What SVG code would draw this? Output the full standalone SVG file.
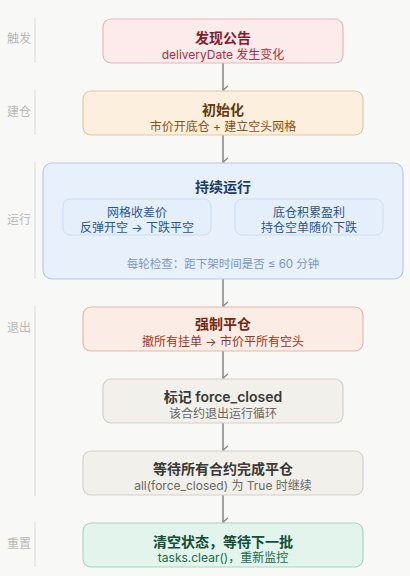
<svg xmlns="http://www.w3.org/2000/svg" width="410" height="576" viewBox="0 0 410 576">
<defs>
<marker id="arr" viewBox="0 0 10 10" refX="5" refY="9" markerWidth="10" markerHeight="10" markerUnits="userSpaceOnUse" orient="auto-start-reverse">
<path d="M1,4 L5,9 L9,4" fill="none" stroke="#858580" stroke-width="1.4"/>
</marker>
</defs>
<style>
text{font-family:"Inter","Noto Sans CJK SC","Noto Sans",sans-serif;text-anchor:middle}
.t{font-size:14px;font-weight:600}
.s{font-size:12px}
.lab{font-size:12px;fill:#b8b8b5;text-anchor:start}
.lane{stroke:#e4e4e1;stroke-width:1.5}
.con{stroke:#858580;stroke-width:1.5;fill:none}
</style>
<rect width="410" height="576" fill="#f8f8f6"/>
<g id="lanes">
<line class="lane" x1="35" y1="18" x2="35" y2="63"/><text class="lab" x="7" y="43">触发</text>
<line class="lane" x1="35" y1="90" x2="35" y2="135"/><text class="lab" x="7" y="116">建仓</text>
<line class="lane" x1="35" y1="162" x2="35" y2="279"/><text class="lab" x="7" y="224">运行</text>
<line class="lane" x1="35" y1="306" x2="35" y2="496"/><text class="lab" x="7" y="332">退出</text>
<line class="lane" x1="35" y1="522" x2="35" y2="567"/><text class="lab" x="7" y="548">重置</text>
</g>
<g id="connectors">
<line class="con" x1="223" y1="63" x2="223" y2="90" marker-end="url(#arr)"/>
<line class="con" x1="223" y1="135" x2="223" y2="162" marker-end="url(#arr)"/>
<line class="con" x1="223" y1="279" x2="223" y2="306" marker-end="url(#arr)"/>
<line class="con" x1="223" y1="351" x2="223" y2="378" marker-end="url(#arr)"/>
<line class="con" x1="223" y1="423" x2="223" y2="450" marker-end="url(#arr)"/>
<line class="con" x1="223" y1="495" x2="223" y2="522" marker-end="url(#arr)"/>
</g>
<g id="n1">
<rect x="103" y="19" width="240" height="44" rx="8" fill="#fdebec" stroke="#e8b8bc" stroke-width="1.2"/>
<text class="t" x="223" y="43" fill="#7e1d2b">发现公告</text>
<text class="s" x="223" y="59" fill="#a53040">deliveryDate 发生变化</text>
</g>
<g id="n2">
<rect x="83" y="91" width="280" height="44" rx="8" fill="#fcefdd" stroke="#e2c8a4" stroke-width="1.2"/>
<text class="t" x="223" y="115" fill="#633a0c">初始化</text>
<text class="s" x="223" y="131" fill="#87500f">市价开底仓 + 建立空头网格</text>
</g>
<g id="n3">
<rect x="43" y="163" width="360" height="116" rx="9" fill="#e7f0fb" stroke="#b3cce8" stroke-width="1.2"/>
<text class="t" x="223" y="192" fill="#1e3d63">持续运行</text>
<rect x="63" y="199" width="148" height="36" rx="7" fill="#e5effb" stroke="#cbdcf1" stroke-width="1"/>
<text class="s" x="137" y="217" fill="#28568f">网格收差价</text>
<text class="s" x="137" y="232" fill="#28568f">反弹开空 → 下跌平空</text>
<rect x="235" y="199" width="148" height="36" rx="7" fill="#e5effb" stroke="#cbdcf1" stroke-width="1"/>
<text class="s" x="309" y="217" fill="#28568f">底仓积累盈利</text>
<text class="s" x="309" y="232" fill="#28568f">持仓空单随价下跌</text>
<text x="223" y="268" font-size="11.5" fill="#7b98bf">每轮检查：距下架时间是否 ≤ 60 分钟</text>
</g>
<g id="n4">
<rect x="83" y="307" width="280" height="44" rx="8" fill="#fbece6" stroke="#e6b8a8" stroke-width="1.2"/>
<text class="t" x="223" y="329" fill="#722812">强制平仓</text>
<text class="s" x="223" y="346" fill="#94381c">撤所有挂单 → 市价平所有空头</text>
</g>
<g id="n5">
<rect x="103" y="379" width="240" height="44" rx="8" fill="#f2f0eb" stroke="#d3d0c9" stroke-width="1.2"/>
<text class="t" x="223" y="402" fill="#383836">标记 force_closed</text>
<text class="s" x="223" y="418" fill="#686864">该合约退出运行循环</text>
</g>
<g id="n6">
<rect x="83" y="451" width="280" height="44" rx="8" fill="#f2f0eb" stroke="#d3d0c9" stroke-width="1.2"/>
<text class="t" x="223" y="474" fill="#383836">等待所有合约完成平仓</text>
<text class="s" x="223" y="490" fill="#686864">all(force_closed) 为 True 时继续</text>
</g>
<g id="n7">
<rect x="83" y="523" width="280" height="44" rx="8" fill="#e2f4ec" stroke="#a6d7c1" stroke-width="1.2"/>
<text class="t" x="223" y="547" fill="#124e38">清空状态，等待下一批</text>
<text class="s" x="223" y="562" fill="#1b684b">tasks.clear()，重新监控</text>
</g>
</svg>
